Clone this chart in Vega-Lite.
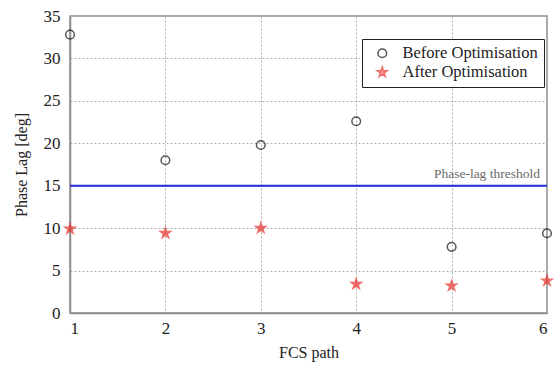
{
  "$schema": "https://vega.github.io/schema/vega-lite/v6.json",
  "autosize": {"type": "none"},
  "width": 477,
  "height": 297,
  "padding": {"left": 70, "top": 16, "right": 10, "bottom": 56},
  "background": "white",
  "config": {
    "font": "Liberation Serif",
    "view": {"stroke": "#8c8c8c", "strokeWidth": 1.5},
    "axis": {
      "labelFont": "Liberation Serif",
      "titleFont": "Liberation Serif",
      "labelFontSize": 17,
      "titleFontSize": 16,
      "labelColor": "#222",
      "titleColor": "#222",
      "titleFontWeight": "normal",
      "domainColor": "#8c8c8c",
      "domainWidth": 1.5,
      "ticks": false,
      "gridColor": "#b0b0b0",
      "gridDash": [2, 2],
      "gridWidth": 1
    },
    "legend": {
      "title": null,
      "orient": "none",
      "legendX": 292,
      "legendY": 23,
      "strokeColor": "#222",
      "fillColor": "white",
      "padding": 6,
      "labelFontSize": 16.5,
      "labelFont": "Liberation Serif",
      "labelColor": "#222",
      "symbolOffset": 6,
      "labelOffset": 12,
      "rowPadding": 2
    }
  },
  "datasets": {
    "phase": [
      {"path": 1, "lag": 32.8, "case": "Before Optimisation"},
      {"path": 2, "lag": 18.0, "case": "Before Optimisation"},
      {"path": 3, "lag": 19.8, "case": "Before Optimisation"},
      {"path": 4, "lag": 22.6, "case": "Before Optimisation"},
      {"path": 5, "lag": 7.8, "case": "Before Optimisation"},
      {"path": 6, "lag": 9.4, "case": "Before Optimisation"},
      {"path": 1, "lag": 9.9, "case": "After Optimisation"},
      {"path": 2, "lag": 9.4, "case": "After Optimisation"},
      {"path": 3, "lag": 10.0, "case": "After Optimisation"},
      {"path": 4, "lag": 3.4, "case": "After Optimisation"},
      {"path": 5, "lag": 3.2, "case": "After Optimisation"},
      {"path": 6, "lag": 3.8, "case": "After Optimisation"}
    ],
    "threshold": [
      {"lag": 15, "label": "Phase-lag threshold", "path": 6}
    ]
  },
  "encoding": {
    "x": {
      "field": "path",
      "type": "quantitative",
      "title": "FCS path",
      "scale": {"domain": [1, 6], "nice": false, "zero": false},
      "axis": {"values": [1, 2, 3, 4, 5, 6], "format": "d", "labelPadding": 7, "titlePadding": 8}
    },
    "y": {
      "field": "lag",
      "type": "quantitative",
      "title": "Phase Lag [deg]",
      "scale": {"domain": [0, 35], "nice": false},
      "axis": {"values": [0, 5, 10, 15, 20, 25, 30, 35], "format": "d", "labelPadding": 10, "titlePadding": 14}
    }
  },
  "layer": [
    {
      "data": {"name": "threshold"},
      "mark": {"type": "rule", "color": "#2828dc", "strokeWidth": 2},
      "encoding": {
        "x": null
      }
    },
    {
      "data": {"name": "threshold"},
      "mark": {"type": "text", "align": "right", "baseline": "bottom", "dx": -7, "dy": -5, "fontSize": 13.5, "color": "#6a6a6a", "font": "Liberation Serif"},
      "encoding": {
        "text": {"field": "label"}
      }
    },
    {
      "data": {"name": "phase"},
      "mark": {"type": "point", "filled": false, "strokeWidth": 1.5},
      "encoding": {
        "shape": {
          "field": "case",
          "type": "nominal",
          "scale": {
            "domain": ["Before Optimisation", "After Optimisation"],
            "range": ["circle", "M0,-1L0.2245,-0.309L0.951,-0.309L0.363,0.118L0.588,0.809L0,0.382L-0.588,0.809L-0.363,0.118L-0.951,-0.309L-0.2245,-0.309Z"]
          }
        },
        "size": {
          "field": "case",
          "type": "nominal",
          "scale": {
            "domain": ["Before Optimisation", "After Optimisation"],
            "range": [75, 110]
          }
        },
        "color": {
          "field": "case",
          "type": "nominal",
          "scale": {
            "domain": ["Before Optimisation", "After Optimisation"],
            "range": ["#111111", "#e8302a"]
          }
        },
        "fill": {
          "field": "case",
          "type": "nominal",
          "scale": {
            "domain": ["Before Optimisation", "After Optimisation"],
            "range": ["transparent", "#e8302a"]
          }
        }
      }
    }
  ]
}
